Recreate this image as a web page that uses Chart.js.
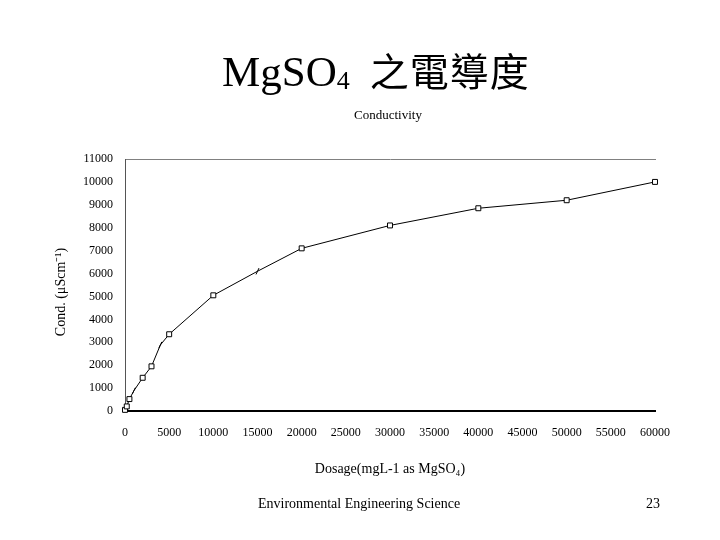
<!DOCTYPE html>
<html>
<head>
<meta charset="utf-8">
<script src="https://cdn.jsdelivr.net/npm/chart.js@4.4.1/dist/chart.umd.min.js"></script>
<style>
  html, body { margin: 0; padding: 0; background: #fff; }
  #page { position: relative; width: 720px; height: 540px; overflow: hidden; }
  #chart { position: absolute; left: 0; top: 0; }
  .txt { position: absolute; white-space: nowrap; font-family: "Liberation Serif", "Times New Roman", serif; color: #000; }
  #title { left: 222px; top: 48px; font-size: 43px; line-height: 43px; }
  #title sub { font-size: 26px; vertical-align: -3px; line-height: 0; }
  #title .zh { font-family: "Noto Sans CJK TC", "Noto Sans CJK SC", sans-serif; font-size: 39px; margin-left: 20px; letter-spacing: 1px; }
  #sub { left: 354px; top: 108px; font-size: 13px; line-height: 13px; }
  #foot { left: 258px; top: 497px; font-size: 14px; line-height: 14px; }
  #num { left: 646px; top: 497px; font-size: 14px; line-height: 14px; }
</style>
</head>
<body>
<div id="page">
  <canvas id="chart" width="720" height="540"></canvas>
  <div class="txt" id="title">MgSO<sub>4</sub><span class="zh">之電導度</span></div>
  <div class="txt" id="sub">Conductivity</div>
  <div class="txt" id="foot">Environmental Engineering Science</div>
  <div class="txt" id="num">23</div>
</div>
<script>
// dosage (mg/L) and conductivity (uS/cm)
const dosage = [0, 200, 500, 1000, 2000, 3000, 4000, 5000, 10000, 15000, 20000, 30000, 40000, 50000, 60000];
const cond   = [50, 200, 520, 880, 1450, 1950, 2880, 3350, 5050, 6100, 7100, 8100, 8850, 9200, 10000];
// points that show only a small tick instead of a square
const tickOnly = [1000, 4000, 15000];

const xTicks = [0, 5000, 10000, 15000, 20000, 25000, 30000, 35000, 40000, 45000, 50000, 55000, 60000];
const yTicks = [0, 1000, 2000, 3000, 4000, 5000, 6000, 7000, 8000, 9000, 10000, 11000];

const serif = "'Liberation Serif', 'Times New Roman', serif";

new Chart(document.getElementById("chart"), {
  type: "line",
  data: {
    datasets: [{
      data: dosage.map((d, i) => ({ x: d, y: cond[i] })),
      borderColor: "#000",
      borderWidth: 1,
      backgroundColor: "#fff",
      pointStyle: dosage.map(d => tickOnly.includes(d) ? "line" : "rect"),
      pointRotation: dosage.map(d => tickOnly.includes(d) ? -65 : 0),
      pointRadius: 3.5,
      pointBorderColor: "#000",
      pointBorderWidth: 1,
      tension: 0,
      clip: false
    }]
  },
  options: {
    responsive: false,
    animation: false,
    events: [],
    layout: { padding: { left: 0, right: 65, top: 159, bottom: 0 } },
    plugins: { legend: { display: false }, tooltip: { enabled: false } },
    scales: {
      x: {
        type: "linear",
        min: 0, max: 60000,
        afterBuildTicks: s => { s.ticks = xTicks.map(v => ({ value: v })); },
        afterFit: s => { s.height = 129; },
        grid: { display: false, drawTicks: false },
        border: { display: true, color: "#000", width: 2 },
        ticks: { color: "#000", padding: 15, maxRotation: 0, autoSkip: false,
                 font: { family: serif, size: 12 }, callback: v => String(v) },
        title: { display: true, text: "Dosage(mgL-1 as MgSO\u2084)", color: "#000",
                 font: { family: serif, size: 14 }, padding: { top: 0, bottom: 62 } }
      },
      x2: {
        type: "linear", position: "top",
        min: 0, max: 60000,
        afterFit: s => { s.height = 0; },
        grid: { display: false, drawTicks: false },
        border: { display: true, color: "#808080", width: 1 },
        ticks: { display: false }
      },
      y: {
        min: 0, max: 11000,
        afterBuildTicks: s => { s.ticks = yTicks.map(v => ({ value: v })); },
        afterFit: s => { s.width = 125; },
        grid: { display: false, drawTicks: false },
        border: { display: true, color: "#555", width: 1 },
        ticks: { color: "#000", padding: 12, autoSkip: false,
                 font: { family: serif, size: 12 }, callback: v => String(v) },
        title: { display: true, text: "Cond. (\u03bcScm\u207b\u00b9)    ", color: "#000",
                 font: { family: serif, size: 14 }, padding: { top: 53, bottom: 0 } }
      }
    }
  }
});
</script>
</body>
</html>
